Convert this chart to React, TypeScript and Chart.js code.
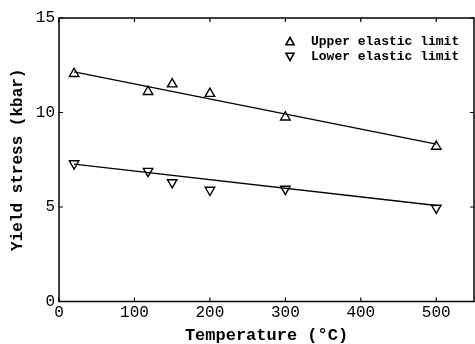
import React, { useEffect, useRef } from "react";
import { Chart, registerables } from "chart.js";

Chart.register(...registerables);

// Measured yield stress (kbar) versus temperature (°C)
const temperatures = [20, 118, 150, 200, 300, 500];
const upperLimit = [12.05, 11.1, 11.5, 11.0, 9.75, 8.2];
const lowerLimit = [7.3, 6.9, 6.3, 5.9, 5.95, 4.95];

// Straight-line fits through each series (end points)
const fitTemps = [20, 500];
const upperFit = [12.15, 8.33];
const lowerFit = [7.27, 5.08];

const xTickValues = [0, 100, 200, 300, 400, 500];
const yTickValues = [0, 5, 10, 15];

const legendLabels = ["Upper elastic limit", "Lower elastic limit"];

const MONO = "'Liberation Mono', 'DejaVu Sans Mono', monospace";

const framePlugin = {
  id: "frameAndLegend",
  afterDraw(chart: any) {
    const { ctx, chartArea } = chart;
    const { left, right, top, bottom } = chartArea;
    const xs = chart.scales.x;
    const ys = chart.scales.y;
    ctx.save();
    ctx.strokeStyle = "#000";
    ctx.lineWidth = 1.5;
    ctx.strokeRect(left, top, right - left, bottom - top);
    // inward ticks on all four sides
    ctx.lineWidth = 1.2;
    ctx.beginPath();
    const tl = 4;
    xTickValues.forEach((v) => {
      const px = xs.getPixelForValue(v);
      ctx.moveTo(px, top);
      ctx.lineTo(px, top + tl);
      ctx.moveTo(px, bottom);
      ctx.lineTo(px, bottom - tl);
    });
    yTickValues.forEach((v) => {
      const py = ys.getPixelForValue(v);
      ctx.moveTo(left, py);
      ctx.lineTo(left + tl, py);
      ctx.moveTo(right, py);
      ctx.lineTo(right - tl, py);
    });
    ctx.stroke();

    // legend in the upper right of the plot
    const mx = 290;
    const tx = 311;
    const rows = [41.5, 56.5];
    ctx.font = `bold 13px ${MONO}`;
    ctx.fillStyle = "#000";
    ctx.textBaseline = "middle";
    ctx.textAlign = "left";
    rows.forEach((ry, i) => {
      ctx.beginPath();
      const s = 4;
      if (i === 0) {
        ctx.moveTo(mx, ry - s);
        ctx.lineTo(mx + s, ry + s * 0.8);
        ctx.lineTo(mx - s, ry + s * 0.8);
      } else {
        ctx.moveTo(mx, ry + s);
        ctx.lineTo(mx + s, ry - s * 0.8);
        ctx.lineTo(mx - s, ry - s * 0.8);
      }
      ctx.closePath();
      ctx.lineWidth = 1.6;
      ctx.stroke();
      ctx.fillText(legendLabels[i], tx, ry);
    });
    ctx.restore();
  },
};

export default function App() {
  const canvasRef = useRef<HTMLCanvasElement | null>(null);

  useEffect(() => {
    if (!canvasRef.current) return;
    const pointStyle = {
      showLine: false,
      pointStyle: "triangle" as const,
      pointRadius: 5.5,
      pointBorderWidth: 1.4,
      pointBorderColor: "#000",
      pointBackgroundColor: "#fff",
    };
    const lineStyle = {
      borderColor: "#000",
      borderWidth: 1.4,
      pointRadius: 0,
      showLine: true,
      fill: false,
    };
    const chart = new Chart(canvasRef.current, {
      type: "scatter",
      data: {
        datasets: [
          {
            label: "Upper fit",
            data: fitTemps.map((x, i) => ({ x, y: upperFit[i] })),
            ...lineStyle,
          },
          {
            label: "Lower fit",
            data: fitTemps.map((x, i) => ({ x, y: lowerFit[i] })),
            ...lineStyle,
          },
          {
            label: legendLabels[0],
            data: temperatures.map((x, i) => ({ x, y: upperLimit[i] })),
            ...pointStyle,
          },
          {
            label: legendLabels[1],
            data: temperatures.map((x, i) => ({ x, y: lowerLimit[i] })),
            ...pointStyle,
            pointRotation: 180,
          },
        ],
      },
      options: {
        animation: false,
        responsive: false,
        maintainAspectRatio: false,
        layout: { autoPadding: false, padding: { top: 18, right: 1, left: 0, bottom: 0 } },
        plugins: {
          legend: { display: false },
          tooltip: { enabled: false },
        },
        scales: {
          x: {
            type: "linear",
            min: 0,
            max: 550,
            afterBuildTicks: (scale: any) => {
              scale.ticks = xTickValues.map((value) => ({ value }));
            },
            afterFit: (scale: any) => {
              scale.height = 42.5;
              scale.paddingLeft = 0;
              scale.paddingRight = 0;
            },
            grid: { display: false, drawTicks: false },
            border: { display: false },
            ticks: {
              color: "#000",
              font: { family: MONO, size: 16, lineHeight: 1 },
              padding: 3,
              maxRotation: 0,
            },
            title: {
              display: true,
              text: "Temperature (°C)",
              color: "#000",
              font: { family: MONO, size: 17, weight: "bold", lineHeight: 1 },
              padding: { top: 0, bottom: 0 },
            },
          },
          y: {
            type: "linear",
            min: 0,
            max: 15,
            afterBuildTicks: (scale: any) => {
              scale.ticks = yTickValues.map((value) => ({ value }));
            },
            afterFit: (scale: any) => {
              scale.width = 59;
              scale.paddingTop = 0;
              scale.paddingBottom = 0;
            },
            grid: { display: false, drawTicks: false },
            border: { display: false },
            ticks: {
              color: "#000",
              font: { family: MONO, size: 16, lineHeight: 1 },
              padding: 4,
            },
            title: {
              display: true,
              text: "Yield stress (kbar)",
              color: "#000",
              font: { family: MONO, size: 16, weight: "bold", lineHeight: 1 },
              padding: { top: 10, bottom: 0 },
            },
          },
        },
      },
      plugins: [framePlugin],
    });
    return () => chart.destroy();
  }, []);

  return (
    <div style={{ position: "fixed", left: 0, top: 0, width: 475, height: 344, background: "#fff" }}>
      <canvas ref={canvasRef} width={475} height={344} style={{ display: "block" }} />
    </div>
  );
}
